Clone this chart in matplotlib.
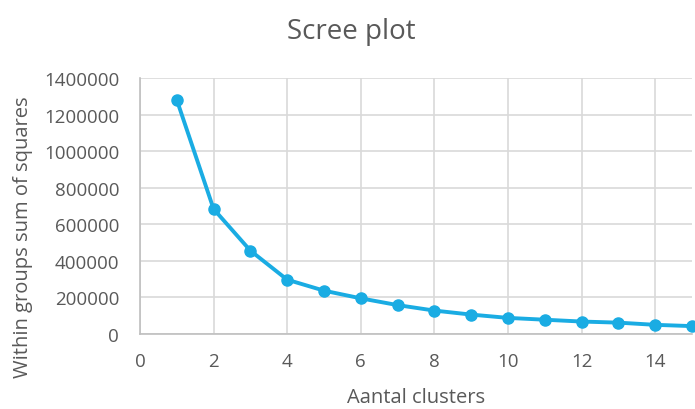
import matplotlib
matplotlib.use("Agg")
import matplotlib.pyplot as plt

clusters = [1, 2, 3, 4, 5, 6, 7, 8, 9, 10, 11, 12, 13, 14, 15]
wss = [1281000, 684000, 456000, 297000, 237000, 195000, 158000, 128000,
       106000, 88000, 78000, 68000, 62000, 50000, 43000]
xticks = [0, 2, 4, 6, 8, 10, 12, 14]
yticks = [0, 200000, 400000, 600000, 800000, 1000000, 1200000, 1400000]

plt.rcParams['font.family'] = ['Open Sans', 'DejaVu Sans']
txt = '#595959'
fig = plt.figure(figsize=(6.95, 4.1), dpi=100)
ax = fig.add_axes([0.2014, 0.183, 0.7943, 0.624])
ax.plot(clusters, wss, color='#1AACE3', lw=2.8, marker='o', ms=8, zorder=3,
        clip_on=False)
ax.set_xlim(0, 15)
ax.set_ylim(0, 1400000)
ax.set_xticks(xticks)
ax.set_yticks(yticks)
ax.set_yticklabels([str(v) for v in yticks])
ax.grid(True, color='#D9D9D9', lw=1.2)
ax.set_axisbelow(True)
for s in ['top', 'right']:
    ax.spines[s].set_visible(False)
for s in ['left', 'bottom']:
    ax.spines[s].set_color('#BFBFBF')
    ax.spines[s].set_linewidth(1.2)
ax.tick_params(length=0, colors=txt, labelsize=13.5)
ax.tick_params(axis='y', pad=15)
ax.tick_params(axis='x', pad=13)
fig.text(0.5986, 1 - 398 / 410, 'Aantal clusters', ha='center', va='center',
         color=txt, fontsize=14.5)
fig.text(23 / 695, 1 - 237.5 / 410, 'Within groups sum of squares', ha='center',
         va='center', rotation=90, color=txt, fontsize=14.5)
fig.text(0.506, 0.922, 'Scree plot', ha='center', va='center', color=txt,
         fontsize=20)
fig.savefig('out.png', dpi=100)
